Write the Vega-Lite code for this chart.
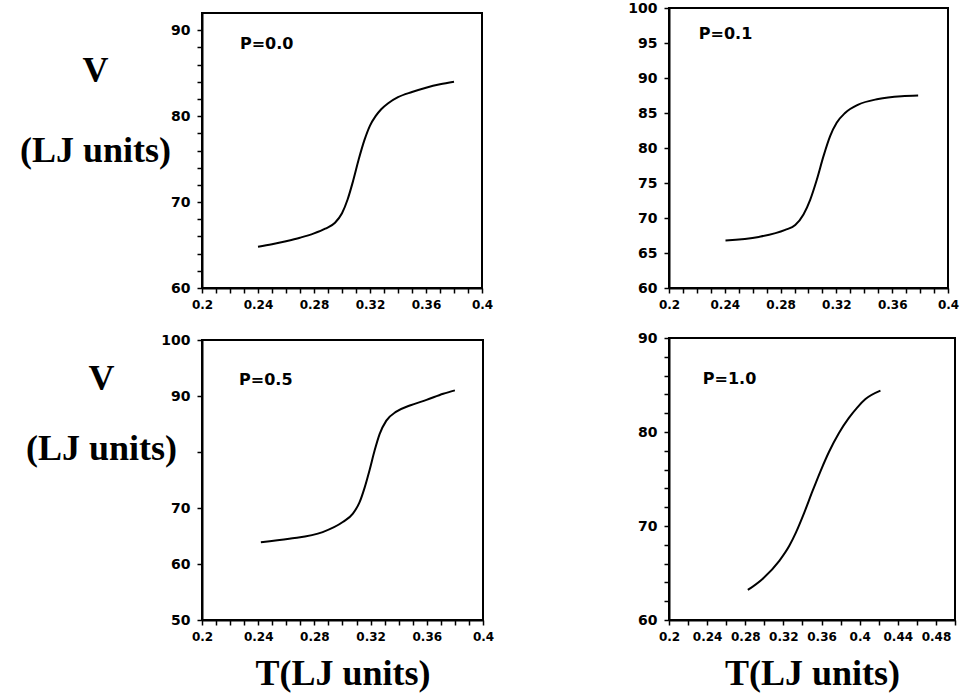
{
  "$schema": "https://vega.github.io/schema/vega-lite/v6.json",
  "background": "white",
  "padding": {"left": 9, "top": 0, "right": 5, "bottom": 5},
  "datasets": {
    "p00": [
      {"T": 0.240, "V": 64.8}, {"T": 0.250, "V": 65.1}, {"T": 0.260, "V": 65.45}, {"T": 0.270, "V": 65.85},
      {"T": 0.280, "V": 66.35}, {"T": 0.288, "V": 66.9}, {"T": 0.295, "V": 67.6}, {"T": 0.300, "V": 68.7},
      {"T": 0.304, "V": 70.3}, {"T": 0.308, "V": 72.5}, {"T": 0.312, "V": 75.0}, {"T": 0.316, "V": 77.2},
      {"T": 0.320, "V": 78.9}, {"T": 0.324, "V": 80.0}, {"T": 0.328, "V": 80.8}, {"T": 0.333, "V": 81.5},
      {"T": 0.340, "V": 82.2}, {"T": 0.350, "V": 82.8}, {"T": 0.360, "V": 83.3}, {"T": 0.370, "V": 83.7},
      {"T": 0.380, "V": 84.0}
    ],
    "p01": [
      {"T": 0.2405, "V": 66.8}, {"T": 0.2643, "V": 67.3}, {"T": 0.2833, "V": 68.3}, {"T": 0.2905, "V": 69.0},
      {"T": 0.2964, "V": 70.5}, {"T": 0.3012, "V": 72.6}, {"T": 0.306, "V": 75.5}, {"T": 0.3107, "V": 78.8},
      {"T": 0.3155, "V": 81.7}, {"T": 0.3202, "V": 83.6}, {"T": 0.3262, "V": 85.0}, {"T": 0.3357, "V": 86.2},
      {"T": 0.350, "V": 87.0}, {"T": 0.3667, "V": 87.4}, {"T": 0.3786, "V": 87.5}
    ],
    "p05": [
      {"T": 0.2419, "V": 63.9}, {"T": 0.2621, "V": 64.5}, {"T": 0.2859, "V": 65.7}, {"T": 0.3002, "V": 67.5},
      {"T": 0.3074, "V": 69.0}, {"T": 0.3121, "V": 71.0}, {"T": 0.3157, "V": 73.6}, {"T": 0.3193, "V": 76.8},
      {"T": 0.3229, "V": 80.3}, {"T": 0.3264, "V": 83.2}, {"T": 0.3312, "V": 85.6}, {"T": 0.3383, "V": 87.2},
      {"T": 0.3479, "V": 88.3}, {"T": 0.3598, "V": 89.3}, {"T": 0.3717, "V": 90.4}, {"T": 0.380, "V": 91.0}
    ],
    "p10": [
      {"T": 0.2827, "V": 63.2}, {"T": 0.2984, "V": 64.4}, {"T": 0.3157, "V": 66.3}, {"T": 0.3262, "V": 67.9},
      {"T": 0.3331, "V": 69.3}, {"T": 0.3418, "V": 71.4}, {"T": 0.3505, "V": 73.7}, {"T": 0.3592, "V": 75.9},
      {"T": 0.3679, "V": 77.9}, {"T": 0.3783, "V": 79.9}, {"T": 0.3887, "V": 81.5}, {"T": 0.3974, "V": 82.6},
      {"T": 0.4061, "V": 83.5}, {"T": 0.4218, "V": 84.4}
    ],
    "lab00": [{"label": "P=0.0", "T": 0.2271, "V": 88.4}],
    "lab01": [{"label": "P=0.1", "T": 0.2214, "V": 96.3}],
    "lab05": [{"label": "P=0.5", "T": 0.2264, "V": 92.9}],
    "lab10": [{"label": "P=1.0", "T": 0.2355, "V": 85.6}]
  },
  "hconcat": [
    {
      "spacing": 21,
      "vconcat": [
        {
          "spacing": 0,
          "vconcat": [
            {"width": 280, "height": 4, "data": {"values": []}, "mark": "point", "view": {"stroke": null}},
            {
              "width": 280, "height": 275,
              "layer": [
                {
                  "data": {"name": "p00"},
                  "mark": {"type": "line", "color": "black", "strokeWidth": 2, "interpolate": "monotone"},
                  "encoding": {
                    "x": {"field": "T", "type": "quantitative",
                      "scale": {"domain": [0.2, 0.4], "nice": false, "zero": false},
                      "axis": {"title": null, "tickCount": 100, "values": [0.2,0.21,0.22,0.23,0.24,0.25,0.26,0.27,0.28,0.29,0.3,0.31,0.32,0.33,0.34,0.35,0.36,0.37,0.38,0.39,0.4],
                        "labelExpr": "round(datum.value*100) % 4 == 0 ? format(datum.value, '~g') : ''"}},
                    "y": {"field": "V", "type": "quantitative",
                      "scale": {"domain": [60, 92], "nice": false, "zero": false},
                      "axis": {"title": ["V", "(LJ   units)"], "titleAngle": 0, "titleAlign": "center", "titleBaseline": "middle",
                        "titleX": -107, "titleY": 57, "titleLineHeight": 80, "tickCount": 100,
                        "values": [60,62,64,66,68,70,72,74,76,78,80,82,84,86,88,90],
                        "labelExpr": "datum.value % 10 == 0 ? format(datum.value, 'd') : ''"}}
                  }
                },
                {
                  "data": {"name": "lab00"},
                  "mark": {"type": "text", "align": "left", "baseline": "middle", "font": "DejaVu Sans", "fontWeight": "bold", "fontSize": 16, "color": "black"},
                  "encoding": {
                    "x": {"field": "T", "type": "quantitative"},
                    "y": {"field": "V", "type": "quantitative"},
                    "text": {"field": "label"}
                  }
                }
              ]
            }
          ]
        },
        {
          "width": 281, "height": 280,
          "layer": [
            {
              "data": {"name": "p05"},
              "mark": {"type": "line", "color": "black", "strokeWidth": 2, "interpolate": "monotone"},
              "encoding": {
                "x": {"field": "T", "type": "quantitative",
                  "scale": {"domain": [0.2, 0.4], "nice": false, "zero": false},
                  "axis": {"title": "T(LJ   units)", "titleY": 53, "titleBaseline": "middle", "tickCount": 100,
                    "values": [0.2,0.21,0.22,0.23,0.24,0.25,0.26,0.27,0.28,0.29,0.3,0.31,0.32,0.33,0.34,0.35,0.36,0.37,0.38,0.39,0.4],
                    "labelExpr": "round(datum.value*100) % 4 == 0 ? format(datum.value, '~g') : ''"}},
                "y": {"field": "V", "type": "quantitative",
                  "scale": {"domain": [50, 100], "nice": false, "zero": false},
                  "axis": {"title": ["V", "(LJ   units)"], "titleAngle": 0, "titleAlign": "center", "titleBaseline": "middle",
                    "titleX": -101, "titleY": 38, "titleLineHeight": 70, "tickCount": 100,
                    "values": [50, 60, 70, 80, 90, 100],
                    "labelExpr": "datum.value == 80 ? '' : format(datum.value, 'd')"}}
              }
            },
            {
              "data": {"name": "lab05"},
              "mark": {"type": "text", "align": "left", "baseline": "middle", "font": "DejaVu Sans", "fontWeight": "bold", "fontSize": 16, "color": "black"},
              "encoding": {
                "x": {"field": "T", "type": "quantitative"},
                "y": {"field": "V", "type": "quantitative"},
                "text": {"field": "label"}
              }
            }
          ]
        }
      ]
    },
    {
      "spacing": 19,
      "vconcat": [
        {
          "width": 279, "height": 280,
          "layer": [
            {
              "data": {"name": "p01"},
              "mark": {"type": "line", "color": "black", "strokeWidth": 2, "interpolate": "monotone"},
              "encoding": {
                "x": {"field": "T", "type": "quantitative",
                  "scale": {"domain": [0.2, 0.4], "nice": false, "zero": false},
                  "axis": {"title": null, "tickCount": 100, "values": [0.2,0.21,0.22,0.23,0.24,0.25,0.26,0.27,0.28,0.29,0.3,0.31,0.32,0.33,0.34,0.35,0.36,0.37,0.38,0.39,0.4],
                    "labelExpr": "round(datum.value*100) % 4 == 0 ? format(datum.value, '~g') : ''"}},
                "y": {"field": "V", "type": "quantitative",
                  "scale": {"domain": [60, 100], "nice": false, "zero": false},
                  "axis": {"title": null, "tickCount": 100, "values": [60, 65, 70, 75, 80, 85, 90, 95, 100],
                    "labelExpr": "format(datum.value, 'd')"}}
              }
            },
            {
              "data": {"name": "lab01"},
              "mark": {"type": "text", "align": "left", "baseline": "middle", "font": "DejaVu Sans", "fontWeight": "bold", "fontSize": 16, "color": "black"},
              "encoding": {
                "x": {"field": "T", "type": "quantitative"},
                "y": {"field": "V", "type": "quantitative"},
                "text": {"field": "label"}
              }
            }
          ]
        },
        {
          "width": 286, "height": 282,
          "layer": [
            {
              "data": {"name": "p10"},
              "mark": {"type": "line", "color": "black", "strokeWidth": 2, "interpolate": "monotone"},
              "encoding": {
                "x": {"field": "T", "type": "quantitative",
                  "scale": {"domain": [0.2, 0.5], "nice": false, "zero": false},
                  "axis": {"title": "T(LJ   units)", "titleY": 53, "titleBaseline": "middle", "tickCount": 100,
                    "values": [0.2,0.22,0.24,0.26,0.28,0.3,0.32,0.34,0.36,0.38,0.4,0.42,0.44,0.46,0.48,0.5],
                    "labelExpr": "round(datum.value*100) % 4 == 0 ? format(datum.value, '~g') : ''"}},
                "y": {"field": "V", "type": "quantitative",
                  "scale": {"domain": [60, 90], "nice": false, "zero": false},
                  "axis": {"title": null, "tickCount": 100, "values": [60,62,64,66,68,70,72,74,76,78,80,82,84,86,88,90],
                    "labelExpr": "datum.value % 10 == 0 ? format(datum.value, 'd') : ''"}}
              }
            },
            {
              "data": {"name": "lab10"},
              "mark": {"type": "text", "align": "left", "baseline": "middle", "font": "DejaVu Sans", "fontWeight": "bold", "fontSize": 16, "color": "black"},
              "encoding": {
                "x": {"field": "T", "type": "quantitative"},
                "y": {"field": "V", "type": "quantitative"},
                "text": {"field": "label"}
              }
            }
          ]
        }
      ]
    }
  ],
  "spacing": 131,
  "config": {
    "view": {"stroke": "black", "strokeWidth": 2},
    "axis": {"domainColor": "black", "domainWidth": 2, "tickColor": "black", "tickWidth": 1.5, "tickSize": 5, "grid": false,
      "labelOverlap": false, "labelFlush": false, "labelBound": false,
      "labelFont": "DejaVu Sans", "labelFontWeight": "bold", "labelColor": "black",
      "titleFont": "Liberation Serif", "titleFontWeight": "bold", "titleFontSize": 36, "titleColor": "black"},
    "axisX": {"labelPadding": 6, "labelFontSize": 12},
    "axisY": {"labelPadding": 7, "labelFontSize": 14}
  }
}
